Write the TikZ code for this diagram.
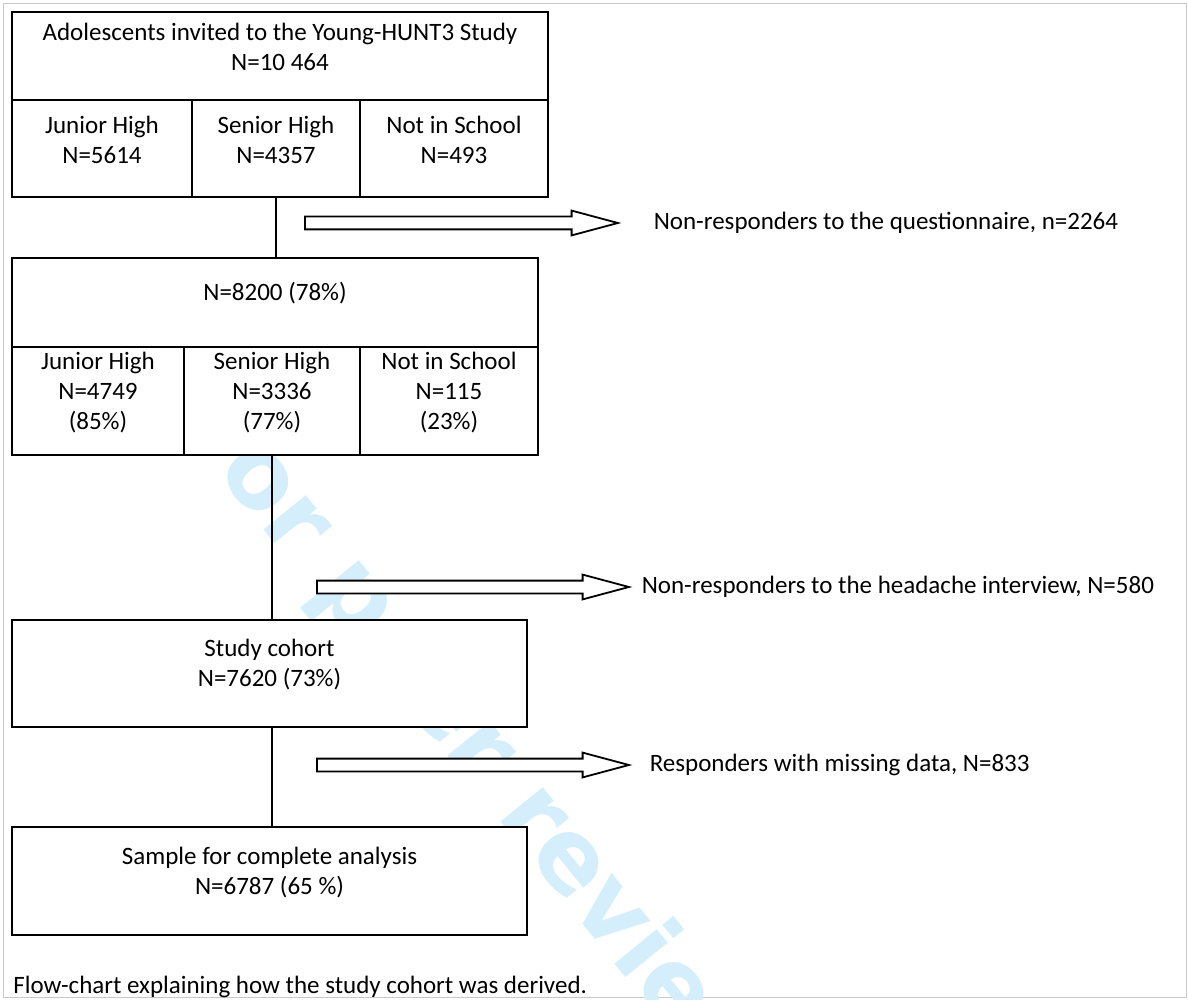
\documentclass[tikz,border=0pt]{standalone}
\usepackage{fontspec}
\setmainfont{Carlito}
\newfontfamily\wmfont{DejaVu Sans}
\usetikzlibrary{positioning,fit,shapes.arrows}
\definecolor{wmblue}{RGB}{212,238,251}
\definecolor{framegray}{RGB}{200,200,200}
\newcommand{\flowfont}{\fontsize{12.5pt}{15pt}\selectfont}

\tikzset{
  cell/.style={draw, fill=white, line width=1pt, inner sep=0pt, align=center, font=\flowfont},
  link/.style={line width=0.75pt},
  widearrow/.style={single arrow, draw, fill=white, line width=0.9pt, inner sep=0pt,
    text height=5.5pt, text depth=0pt, single arrow head extend=3pt,
    single arrow tip angle=30, single arrow head indent=0pt},
  sidetext/.style={font=\flowfont, anchor=west, inner sep=0pt},
}

\begin{document}
\begin{tikzpicture}[x=0.5pt,y=-0.5pt]
\useasboundingbox (0,0) rectangle (1188,1000);
\draw[framegray] (3,3) rectangle (1186,997);
%watermark behind the boxes
\node[rotate=-51, anchor=base west, inner sep=0pt, text=wmblue,
  font=\wmfont\bfseries\fontsize{50pt}{56pt}\selectfont] (wm) at (175,420) {For peer review only};
%invited adolescents
\node[cell, fit={(12,12) (548,100)}] (invited) {Adolescents invited to the Young-HUNT3 Study\\N=10 464};
\node[cell, fit={(12,100) (192,197)}] (junior1) {Junior High\\N=5614};
\node[cell, fit={(192,100) (360,197)}] (senior1) {Senior High\\N=4357};
\node[cell, fit={(360,100) (548,197)}] (noschool1) {Not in School\\N=493};
%responders
\node[cell, fit={(12,258) (538,347)}] (resp) {N=8200 (78\%)};
\node[cell, fit={(12,347) (184,455)}] (junior2) {Junior High\\N=4749\\(85\%)};
\node[cell, fit={(184,347) (360,455)}] (senior2) {Senior High\\N=3336\\(77\%)};
\node[cell, fit={(360,347) (538,455)}] (noschool2) {Not in School\\N=115\\(23\%)};
%cohort and sample
\node[cell, fit={(12,620) (527,727)}] (cohort) {Study cohort\\N=7620 (73\%)\\[14pt]};
\node[cell, fit={(12,827) (527,935)}] (sample) {Sample for complete analysis\\N=6787 (65 \%)\\[14pt]};
% vertical links
\draw[link] (senior1.south) -- (senior1.south |- resp.north);
\draw[link] (senior2.south) -- (senior2.south |- cohort.north);
\draw[link] (senior2.south |- cohort.south) -- (senior2.south |- sample.north);
% drop-outs
\node[widearrow, minimum height=156.5pt, anchor=tail] (drop1) at (304,223) {};
\node[widearrow, minimum height=156pt, anchor=tail] (drop2) at (316,587) {};
\node[widearrow, minimum height=156pt, anchor=tail] (drop3) at (316,765) {};
\node[sidetext, right=16pt of drop1.tip] (drop1txt) {Non-responders to the questionnaire, n=2264};
\node[sidetext, right=4.5pt of drop2.tip] (drop2txt) {Non-responders to the headache interview, N=580};
\node[sidetext, right=8.5pt of drop3.tip] (drop3txt) {Responders with missing data, N=833};
% caption
\node[sidetext, anchor=base west] (caption) at (13,993) {Flow-chart explaining how the study cohort was derived.};
\end{tikzpicture}
\end{document}
